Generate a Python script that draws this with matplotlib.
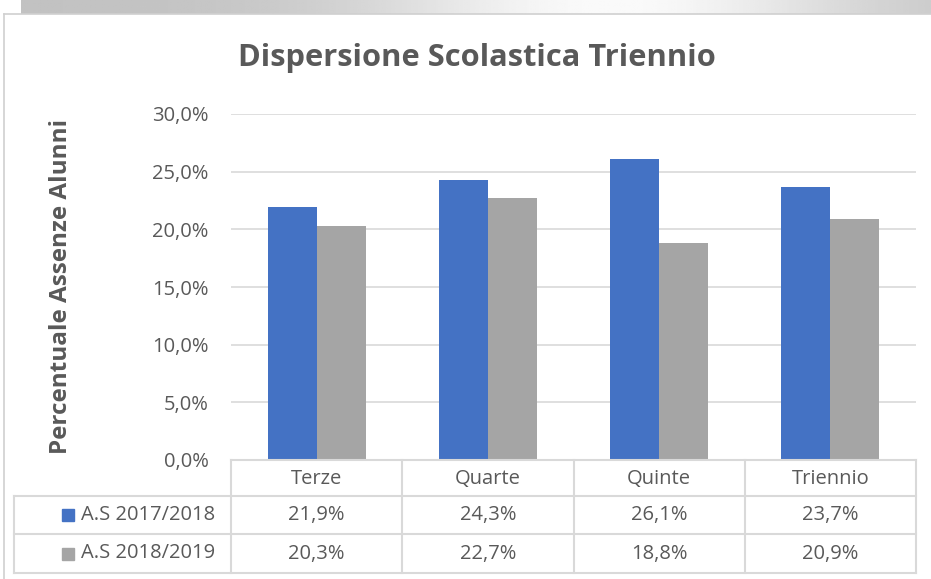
import numpy as np
import matplotlib
matplotlib.use('Agg')
import matplotlib.pyplot as plt
from matplotlib.lines import Line2D
from matplotlib.patches import Rectangle

# Dati del grafico
categorie = ['Terze', 'Quarte', 'Quinte', 'Triennio']
serie_nomi = ['A.S 2017/2018', 'A.S 2018/2019']
valori_1718 = [21.9, 24.3, 26.1, 23.7]
valori_1819 = [20.3, 22.7, 18.8, 20.9]
y_ticks = [0, 5, 10, 15, 20, 25, 30]

colori = ['#4472C4', '#A5A5A5']
testo = '#595959'
linea = '#D9D9D9'

plt.rcParams['font.family'] = ['Open Sans', 'DejaVu Sans']

W, H = 931, 579
fig = plt.figure(figsize=(W / 100, H / 100), dpi=100)


def fx(px):
    return px / W


def fy(py):
    return 1 - py / H


# banda grigia in alto con sfumatura
band = fig.add_axes([fx(21), fy(14), fx(910), 14 / H])
xs = np.linspace(-1, 1, 400)
grad = 0.76 + 0.22 * np.exp(-((xs - 0.3) / 0.55) ** 2)
band.imshow(np.tile(grad, (10, 1)), cmap='gray', vmin=0, vmax=1, aspect='auto',
            extent=[0, 1, 0, 1])
band.axis('off')

# cornice esterna
fig.add_artist(Line2D([fx(4), fx(4)], [fy(14), 0], color='#D0D0D0', lw=1.2,
                      transform=fig.transFigure))
fig.add_artist(Line2D([fx(4), 1], [fy(14), fy(14)], color='#D0D0D0', lw=1.2,
                      transform=fig.transFigure))

# area del grafico
left, right, top, bottom = 231, 916, 114, 460
ax = fig.add_axes([fx(left), fy(bottom), fx(right - left), (bottom - top) / H])

x = np.arange(len(categorie))
w = 0.286
ax.bar(x - w / 2, valori_1718, width=w, color=colori[0], zorder=3)
ax.bar(x + w / 2, valori_1819, width=w, color=colori[1], zorder=3)

ax.set_xlim(-0.5, len(categorie) - 0.5)
ax.set_ylim(0, 30)
ax.set_yticks(y_ticks)
ax.set_yticklabels([f'{t:.1f}%'.replace('.', ',') for t in y_ticks],
                   fontsize=14.5, color=testo)
ax.tick_params(axis='y', length=0, pad=16)
ax.set_xticks([])
ax.grid(axis='y', color=linea, lw=1.2, zorder=0)
for s in ax.spines.values():
    s.set_visible(False)

ax.set_ylabel('Percentuale Assenze Alunni', fontsize=17.5, fontweight='bold',
              color=testo)
ax.yaxis.set_label_coords(-(left - 73) / (right - left), 0.5)

fig.text(fx(477), fy(58), 'Dispersione Scolastica Triennio', fontsize=22.2,
         fontweight='bold', color=testo, ha='center', va='center')

# tabella dati
righe = [460, 496, 534, 573]
col_edges = np.linspace(left, right, len(categorie) + 1)
tr = fig.transFigure


def hline(x0, x1, y):
    fig.add_artist(Line2D([fx(x0), fx(x1)], [fy(y), fy(y)], color=linea, lw=1.5,
                          transform=tr))


def vline(xp, y0, y1):
    fig.add_artist(Line2D([fx(xp), fx(xp)], [fy(y0), fy(y1)], color=linea, lw=1.5,
                          transform=tr))


hline(left, right, righe[0])
for yy in righe[1:]:
    hline(14, right, yy)
for xe in col_edges:
    vline(xe, righe[0], righe[3])
vline(14, righe[1], righe[3])

for i, c in enumerate(categorie):
    xc = (col_edges[i] + col_edges[i + 1]) / 2
    fig.text(fx(xc), fy((righe[0] + righe[1]) / 2 + 1), c, fontsize=14.5,
             color=testo, ha='center', va='center')
    for r, vals in enumerate([valori_1718, valori_1819]):
        yc = (righe[r + 1] + righe[r + 2]) / 2
        fig.text(fx(xc), fy(yc), f'{vals[i]:.1f}%'.replace('.', ','),
                 fontsize=14.5, color=testo, ha='center', va='center')

for r, nome in enumerate(serie_nomi):
    yc = (righe[r + 1] + righe[r + 2]) / 2
    fig.add_artist(Rectangle((fx(62), fy(yc + 6)), fx(12), 12 / H,
                             color=colori[r], transform=tr))
    fig.text(fx(81), fy(yc), nome, fontsize=14.5, color=testo, ha='left',
             va='center')

fig.savefig('out.png', dpi=100, facecolor='white')
